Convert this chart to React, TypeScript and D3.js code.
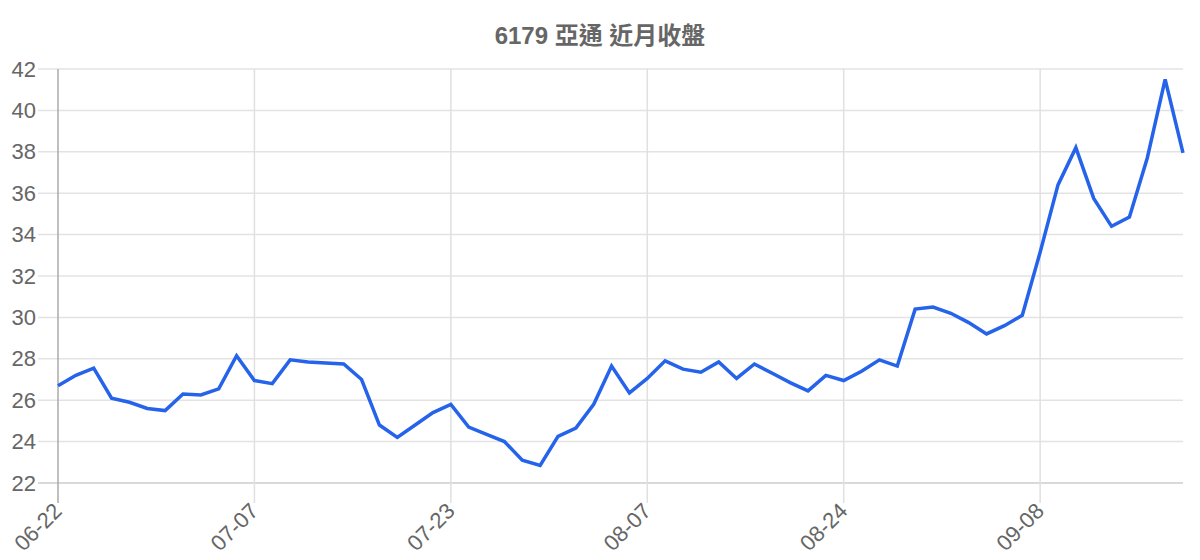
import { useEffect, useRef } from "react";
import * as d3 from "d3";

const title = "6179 亞通 近月收盤";

// closing prices, one per trading day
const closes = [
  26.7, 27.2, 27.55, 26.1, 25.9, 25.6, 25.5, 26.3, 26.25, 26.55,
  28.15, 26.95, 26.8, 27.95, 27.85, 27.8, 27.75, 27.0, 24.8, 24.2,
  24.8, 25.4, 25.8, 24.7, 24.35, 24.0, 23.1, 22.85, 24.25, 24.65,
  25.8, 27.65, 26.35, 27.05, 27.9, 27.5, 27.35, 27.85, 27.05, 27.75,
  27.3, 26.85, 26.45, 27.2, 26.95, 27.4, 27.95, 27.65, 30.4, 30.5,
  30.2, 29.75, 29.2, 29.6, 30.1, 33.15, 36.4, 38.2, 35.75, 34.4,
  34.85, 37.7, 41.5, 37.95,
];

// labelled days on the x axis and their position in closes
const tickLabels = ["06-22", "07-07", "07-23", "08-07", "08-24", "09-08"];
const tickIndex = [0, 11, 22, 33, 44, 55];

const yTicks = [22, 24, 26, 28, 30, 32, 34, 36, 38, 40, 42];

export default function App() {
  const svgRef = useRef<SVGSVGElement>(null);

  useEffect(() => {
    if (!svgRef.current) return;
    const svg = d3.select(svgRef.current);
    svg.selectAll("*").remove();

    const W = 1200;
    const H = 560;
    const left = 58, right = 1183, top = 69, bottom = 483;
    const font = "'Liberation Sans', Arial, 'Noto Sans CJK TC', sans-serif";

    const x = d3.scalePoint<number>()
      .domain(closes.map((_, i) => i))
      .range([left, right]);

    const y = d3.scaleLinear().domain([22, 42]).range([bottom, top]);

    svg.attr("width", W).attr("height", H);

    // Title
    svg.append("text")
      .attr("x", 600)
      .attr("y", 35)
      .attr("text-anchor", "middle")
      .attr("dominant-baseline", "central")
      .attr("font-family", font)
      .attr("font-size", 24)
      .attr("font-weight", "bold")
      .attr("fill", "#666")
      .text(title);

    // Horizontal grid + y ticks
    const yg = svg.append("g");
    yg.selectAll("line")
      .data(yTicks)
      .enter().append("line")
      .attr("x1", left - 20)
      .attr("x2", right)
      .attr("y1", d => y(d))
      .attr("y2", d => y(d))
      .attr("stroke", d => d === 22 ? "#cccccc" : "#e3e3e3")
      .attr("stroke-width", 1.5);

    yg.selectAll("text")
      .data(yTicks)
      .enter().append("text")
      .attr("x", left - 22)
      .attr("y", d => y(d))
      .attr("text-anchor", "end")
      .attr("dominant-baseline", "central")
      .attr("font-family", font)
      .attr("font-size", 22)
      .attr("fill", "#666")
      .text(d => d);

    // Vertical grid + x ticks
    const xg = svg.append("g");
    xg.selectAll("line")
      .data(tickIndex)
      .enter().append("line")
      .attr("x1", d => x(d)!)
      .attr("x2", d => x(d)!)
      .attr("y1", top)
      .attr("y2", bottom + 20)
      .attr("stroke", (_, i) => i === 0 ? "#aaaaaa" : "#e0e0e0")
      .attr("stroke-width", 1.5);

    xg.selectAll("text")
      .data(tickIndex)
      .enter().append("text")
      .attr("transform", d => `translate(${x(d)! - 20},527) rotate(-45)`)
      .attr("text-anchor", "middle")
      .attr("dominant-baseline", "central")
      .attr("font-family", font)
      .attr("font-size", 22)
      .attr("fill", "#666")
      .text((_, i) => tickLabels[i]);

    // Price line
    const line = d3.line<number>()
      .x((_, i) => x(i)!)
      .y(d => y(d));

    svg.append("path")
      .datum(closes)
      .attr("d", line)
      .attr("fill", "none")
      .attr("stroke", "#2563eb")
      .attr("stroke-width", 3.5)
      .attr("stroke-linejoin", "miter");
  }, []);

  return (
    <svg ref={svgRef} style={{ position: "absolute", left: 0, top: 0, background: "#fff" }}></svg>
  );
}
